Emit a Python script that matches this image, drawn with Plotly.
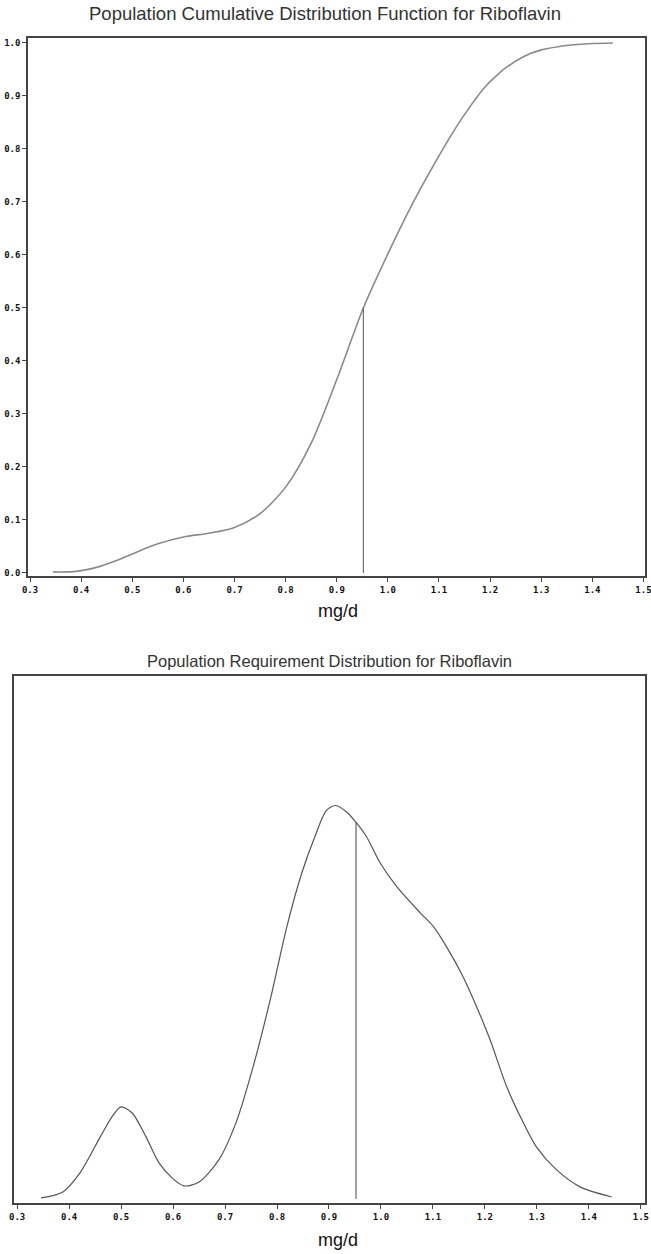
import plotly.graph_objects as go

# ---- data ----
cdf_x = [0.345, 0.39, 0.435, 0.473, 0.50, 0.55, 0.60, 0.65, 0.70, 0.75, 0.80, 0.85,
         0.90, 0.952, 1.00, 1.05, 1.094, 1.127, 1.16, 1.19, 1.21, 1.229, 1.267, 1.30,
         1.333, 1.37, 1.40, 1.44]
cdf_y = [0.002, 0.003, 0.012, 0.025, 0.036, 0.055, 0.068, 0.075, 0.086, 0.112, 0.162, 0.245,
         0.365, 0.500, 0.602, 0.700, 0.777, 0.831, 0.879, 0.917, 0.936, 0.952, 0.975, 0.987,
         0.993, 0.997, 0.999, 1.000]

pdf_x = [0.346, 0.388, 0.421, 0.46, 0.485, 0.50, 0.521, 0.548, 0.573, 0.598, 0.621, 0.65,
         0.688, 0.721, 0.754, 0.787, 0.819, 0.848, 0.873, 0.895, 0.913, 0.935, 0.952, 0.972,
         0.998, 1.030, 1.075, 1.101, 1.126, 1.158, 1.184, 1.210, 1.242, 1.274, 1.299, 1.338,
         1.383, 1.444]
pdf_y = [0.006, 0.043, 0.160, 0.381, 0.516, 0.565, 0.529, 0.381, 0.221, 0.129, 0.080, 0.104,
         0.240, 0.467, 0.811, 1.223, 1.672, 2.004, 2.225, 2.385, 2.415, 2.372, 2.311, 2.225,
         2.065, 1.918, 1.758, 1.672, 1.549, 1.364, 1.180, 0.977, 0.688, 0.467, 0.320, 0.178,
         0.074, 0.012]

median = 0.952
median_cdf = 0.5
median_pdf = 2.311

x_ticks = [0.3, 0.4, 0.5, 0.6, 0.7, 0.8, 0.9, 1.0, 1.1, 1.2, 1.3, 1.4, 1.5]
y_ticks = [0.0, 0.1, 0.2, 0.3, 0.4, 0.5, 0.6, 0.7, 0.8, 0.9, 1.0]

title_top = "Population Cumulative Distribution Function for Riboflavin"
title_bot = "Population Requirement Distribution for Riboflavin"
x_label = "mg/d"

W, H = 651, 1254

def px(v):
    return v / W

def py(v):
    return 1 - v / H

fig = go.Figure()

fig.add_trace(go.Scatter(x=cdf_x, y=cdf_y, mode="lines",
                         line=dict(color="#8a8a8a", width=1.6, shape="spline", smoothing=0.8),
                         xaxis="x", yaxis="y", showlegend=False, hoverinfo="skip"))
fig.add_trace(go.Scatter(x=[median, median], y=[0, median_cdf], mode="lines",
                         line=dict(color="#555555", width=1), xaxis="x", yaxis="y", showlegend=False))

fig.add_trace(go.Scatter(x=pdf_x, y=pdf_y, mode="lines",
                         line=dict(color="#555555", width=1.2, shape="spline", smoothing=0.8),
                         xaxis="x2", yaxis="y2", showlegend=False, hoverinfo="skip"))
fig.add_trace(go.Scatter(x=[median, median], y=[0, median_pdf], mode="lines",
                         line=dict(color="#444444", width=1), xaxis="x2", yaxis="y2", showlegend=False))

tickfont = dict(family="DejaVu Sans Mono", size=9, color="#111111", weight="bold")
axis_common = dict(showline=True, linecolor="#444444", linewidth=1.5, mirror=True,
                   showgrid=False, zeroline=False, ticks="outside", ticklen=4,
                   tickcolor="#444444", tickfont=tickfont, automargin=False,
                   ticklabeloverflow="allow")

fig.update_layout(
    width=W, height=H,
    margin=dict(l=0, r=0, t=0, b=0),
    paper_bgcolor="white", plot_bgcolor="white",
    xaxis=dict(domain=[px(28), px(645)], range=[0.296, 1.503], tickvals=x_ticks,
               tickformat=".1f", anchor="y", **axis_common),
    yaxis=dict(domain=[py(576), py(38)], range=[-0.0057, 1.0094], tickvals=y_ticks,
               tickformat=".1f", anchor="x", **axis_common),
    xaxis2=dict(domain=[px(14), px(645)], range=[0.294, 1.508], tickvals=x_ticks,
                tickformat=".1f", anchor="y2", **axis_common),
    yaxis2=dict(domain=[py(1203), py(676)], range=[-0.025, 3.21], showticklabels=False,
                anchor="x2", showline=True, linecolor="#444444", linewidth=1.5, mirror=True,
                showgrid=False, zeroline=False, ticks="", automargin=False),
)

title_font_top = dict(family="Liberation Sans", size=18.5, color="#333333")
title_font_bot = dict(family="Liberation Sans", size=16.5, color="#333333")
label_font = dict(family="Liberation Sans", size=18, color="#111111")

fig.add_annotation(text=title_top, x=px(325), y=py(14), xref="paper", yref="paper",
                   showarrow=False, font=title_font_top, xanchor="center", yanchor="middle")
fig.add_annotation(text=x_label, x=px(338), y=py(611), xref="paper", yref="paper",
                   showarrow=False, font=label_font, xanchor="center", yanchor="middle")
fig.add_annotation(text=title_bot, x=px(329), y=py(661), xref="paper", yref="paper",
                   showarrow=False, font=title_font_bot, xanchor="center", yanchor="middle")
fig.add_annotation(text=x_label, x=px(338), y=py(1240), xref="paper", yref="paper",
                   showarrow=False, font=label_font, xanchor="center", yanchor="middle")

fig.write_html("out.html", config={"displayModeBar": False},
               post_script="document.body.style.margin='0px';")
